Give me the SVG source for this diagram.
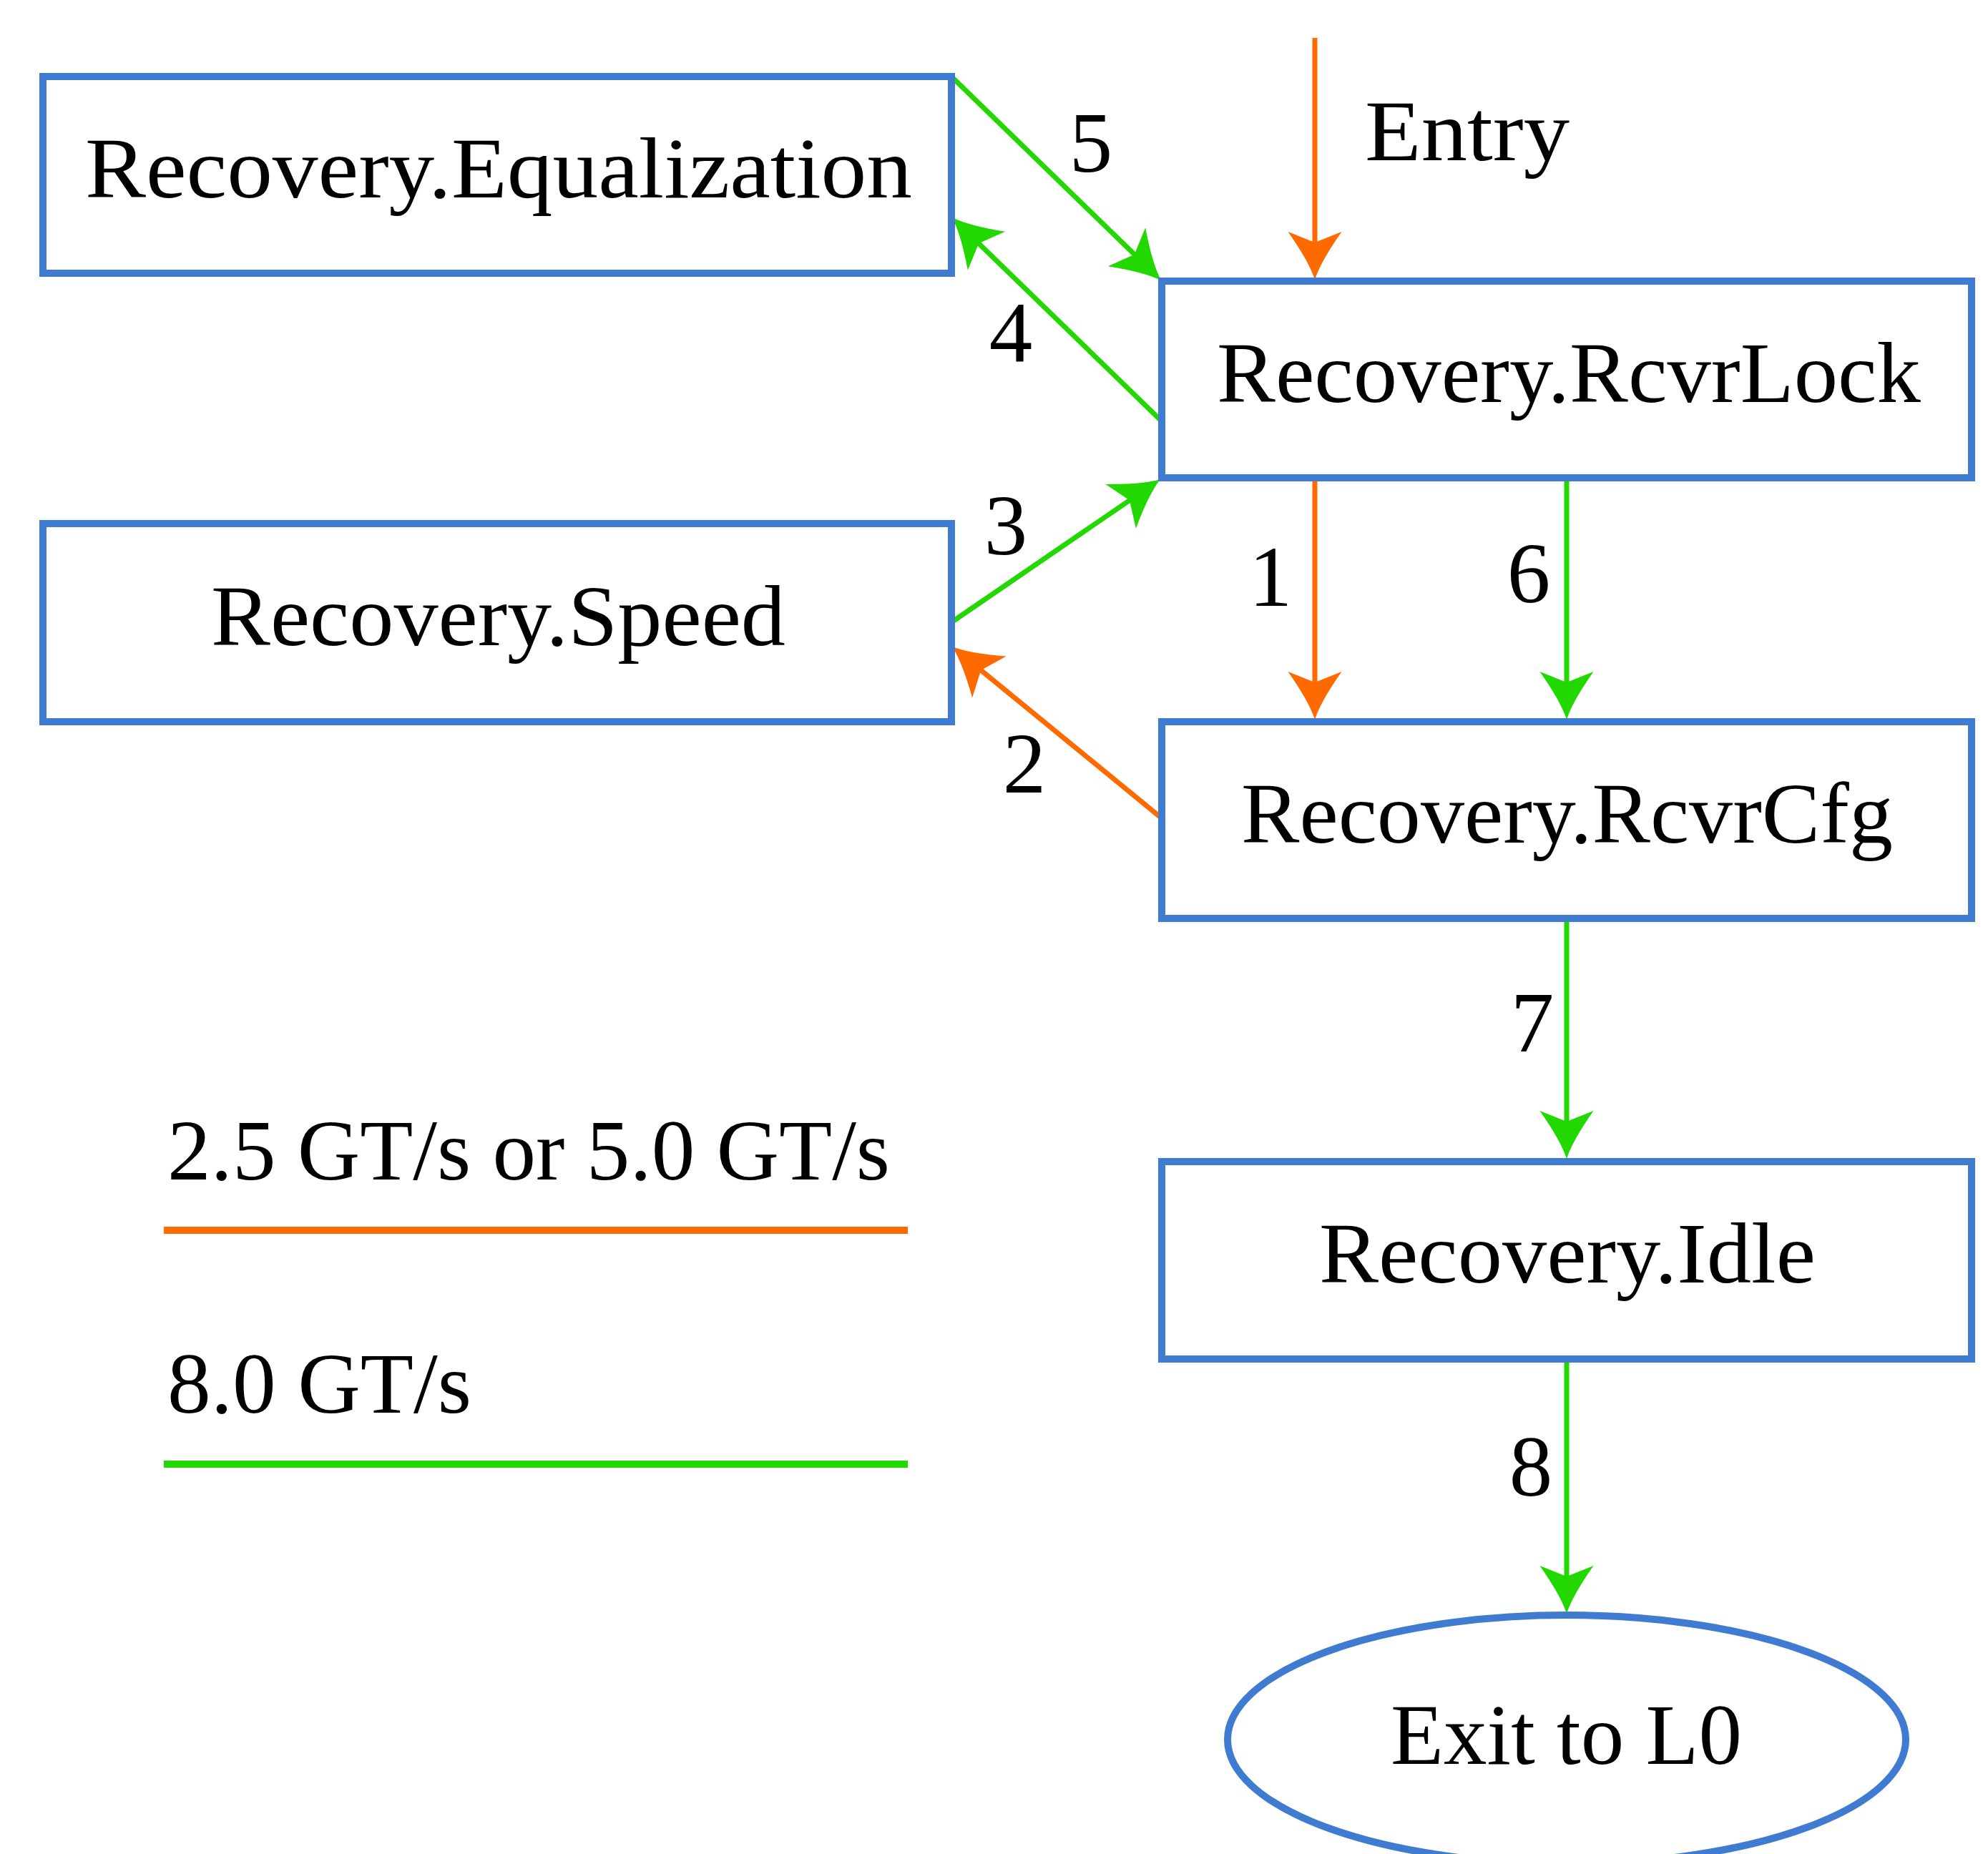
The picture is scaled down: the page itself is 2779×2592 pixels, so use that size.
<svg xmlns="http://www.w3.org/2000/svg" width="2779" height="2592" viewBox="0 0 2779 2592">
<style>
.box{fill:#ffffff;stroke:#3e7bd1;stroke-width:10}
.lbl{font-family:"Liberation Serif","DejaVu Serif",serif;font-size:121px;fill:#000000}
.mid{text-anchor:middle}
.eg{fill:none;stroke:#22d800;stroke-width:7}
.eo{fill:none;stroke:#ff6a00;stroke-width:7}
.lg{fill:none;stroke:#22d800;stroke-width:10}
.lo{fill:none;stroke:#ff6a00;stroke-width:10}
</style>
<defs>
<marker id="ag" viewBox="-70 -40 72 80" refX="-50" refY="0" markerWidth="72" markerHeight="80" markerUnits="userSpaceOnUse" orient="auto">
<path d="M0,0 Q-25,-8 -67,-37.5 L-52,0 L-67,37.5 Q-25,8 0,0 Z" fill="#22d800"/>
</marker>
<marker id="ao" viewBox="-70 -40 72 80" refX="-50" refY="0" markerWidth="72" markerHeight="80" markerUnits="userSpaceOnUse" orient="auto">
<path d="M0,0 Q-25,-8 -67,-37.5 L-52,0 L-67,37.5 Q-25,8 0,0 Z" fill="#ff6a00"/>
</marker>
</defs>
<rect width="2779" height="2592" fill="#ffffff"/>

<g id="connectors">
<g id="entry">
<line class="eo" x1="1838" y1="53" x2="1838" y2="341" marker-end="url(#ao)"/>
<text class="lbl" x="1908" y="224" textLength="286" lengthAdjust="spacingAndGlyphs">Entry</text>
</g>
<g id="e5">
<line class="eg" x1="1330" y1="107" x2="1587.2" y2="357.1" marker-end="url(#ag)"/>
<text class="lbl mid" x="1525" y="240">5</text>
</g>
<g id="e4">
<line class="eg" x1="1624" y1="589" x2="1366.8" y2="338.9" marker-end="url(#ag)"/>
<text class="lbl mid" x="1413" y="505">4</text>
</g>
<g id="e3">
<line class="eg" x1="1330" y1="870" x2="1580.7" y2="698.3" marker-end="url(#ag)"/>
<text class="lbl mid" x="1406" y="775">3</text>
</g>
<g id="e2">
<line class="eo" x1="1624" y1="1144" x2="1369.7" y2="935.7" marker-end="url(#ao)"/>
<text class="lbl mid" x="1432" y="1108">2</text>
</g>
<g id="e1">
<line class="eo" x1="1838" y1="668" x2="1838" y2="956" marker-end="url(#ao)"/>
<text class="lbl mid" x="1776" y="847">1</text>
</g>
<g id="e6">
<line class="eg" x1="2190" y1="668" x2="2190" y2="956" marker-end="url(#ag)"/>
<text class="lbl mid" x="2137" y="842">6</text>
</g>
<g id="e7">
<line class="eg" x1="2190" y1="1284" x2="2190" y2="1570" marker-end="url(#ag)"/>
<text class="lbl mid" x="2142" y="1470">7</text>
</g>
<g id="e8">
<line class="eg" x1="2190" y1="1900" x2="2190" y2="2206" marker-end="url(#ag)"/>
<text class="lbl mid" x="2140" y="2091">8</text>
</g>
</g>

<g id="node-equalization">
<rect class="box" x="60" y="107" width="1270" height="275"/>
<text class="lbl" x="119" y="276" textLength="1156" lengthAdjust="spacingAndGlyphs">Recovery.Equalization</text>
</g>
<g id="node-rcvrlock">
<rect class="box" x="1624" y="393" width="1132" height="275"/>
<text class="lbl" x="1701" y="562" textLength="984" lengthAdjust="spacingAndGlyphs">Recovery.RcvrLock</text>
</g>
<g id="node-speed">
<rect class="box" x="60" y="732" width="1270" height="277"/>
<text class="lbl" x="295" y="902" textLength="803" lengthAdjust="spacingAndGlyphs">Recovery.Speed</text>
</g>
<g id="node-rcvrcfg">
<rect class="box" x="1624" y="1009" width="1132" height="275"/>
<text class="lbl" x="1735" y="1178" textLength="911" lengthAdjust="spacingAndGlyphs">Recovery.RcvrCfg</text>
</g>
<g id="node-idle">
<rect class="box" x="1624" y="1624" width="1132" height="276"/>
<text class="lbl" x="1844" y="1793" textLength="694" lengthAdjust="spacingAndGlyphs">Recovery.Idle</text>
</g>
<g id="node-exit">
<ellipse class="box" cx="2190" cy="2432" rx="474" ry="174"/>
<text class="lbl" x="1944" y="2466" textLength="491" lengthAdjust="spacingAndGlyphs">Exit to L0</text>
</g>

<g id="legend">
<text class="lbl" x="234" y="1649" textLength="1010" lengthAdjust="spacingAndGlyphs">2.5 GT/s or 5.0 GT/s</text>
<line class="lo" x1="229" y1="1720" x2="1269" y2="1720"/>
<text class="lbl" x="234" y="1975" textLength="425" lengthAdjust="spacingAndGlyphs">8.0 GT/s</text>
<line class="lg" x1="229" y1="2047" x2="1269" y2="2047"/>
</g>
</svg>
